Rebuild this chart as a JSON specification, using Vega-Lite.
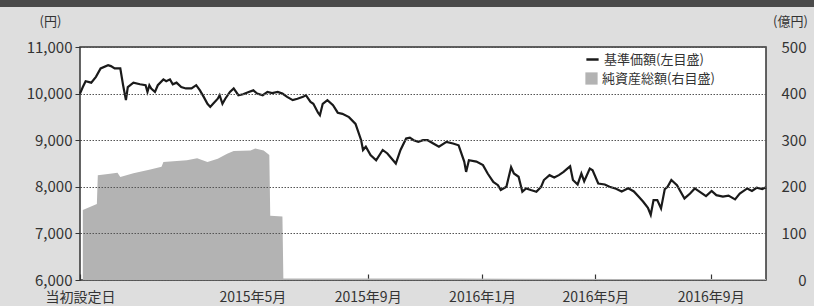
{
  "$schema": "https://vega.github.io/schema/vega-lite/v6.json",
  "width": 686,
  "height": 233,
  "autosize": {"type": "none"},
  "padding": {"left": 80, "top": 47, "right": 48, "bottom": 26},
  "background": "#dedede",
  "config": {
    "font": "Noto Sans CJK JP",
    "view": {"fill": "white", "stroke": "#333333", "strokeWidth": 1.5},
    "axis": {"labelColor": "#333333", "titleColor": "#333333", "labelFont": "Noto Sans CJK JP", "titleFont": "Noto Sans CJK JP"},
    "legend": {"labelFont": "Noto Sans CJK JP", "labelColor": "#333333"}
  },
  "datasets": {
    "assets": [
      {"date": "2014-11-01", "v": 150},
      {"date": "2014-11-16", "v": 163},
      {"date": "2014-11-17", "v": 225},
      {"date": "2014-11-30", "v": 228},
      {"date": "2014-12-08", "v": 230},
      {"date": "2014-12-11", "v": 221},
      {"date": "2014-12-25", "v": 229},
      {"date": "2015-01-12", "v": 237},
      {"date": "2015-01-24", "v": 243},
      {"date": "2015-01-26", "v": 253},
      {"date": "2015-02-20", "v": 257},
      {"date": "2015-03-03", "v": 261},
      {"date": "2015-03-14", "v": 253},
      {"date": "2015-03-25", "v": 260},
      {"date": "2015-04-04", "v": 271},
      {"date": "2015-04-11", "v": 277},
      {"date": "2015-04-29", "v": 278},
      {"date": "2015-05-04", "v": 282},
      {"date": "2015-05-13", "v": 278},
      {"date": "2015-05-19", "v": 268},
      {"date": "2015-05-20", "v": 138},
      {"date": "2015-06-02", "v": 136},
      {"date": "2015-06-03", "v": 3},
      {"date": "2015-12-01", "v": 3},
      {"date": "2016-06-01", "v": 2},
      {"date": "2016-10-30", "v": 2}
    ],
    "nav": [
      {"date": "2014-10-29", "v": 10000},
      {"date": "2014-11-01", "v": 10140},
      {"date": "2014-11-04", "v": 10265},
      {"date": "2014-11-10", "v": 10235},
      {"date": "2014-11-15", "v": 10360},
      {"date": "2014-11-20", "v": 10540},
      {"date": "2014-11-28", "v": 10610},
      {"date": "2014-12-01", "v": 10590},
      {"date": "2014-12-05", "v": 10540},
      {"date": "2014-12-11", "v": 10540},
      {"date": "2014-12-14", "v": 10180},
      {"date": "2014-12-17", "v": 9860},
      {"date": "2014-12-19", "v": 10140},
      {"date": "2014-12-25", "v": 10235},
      {"date": "2015-01-01", "v": 10200},
      {"date": "2015-01-07", "v": 10180},
      {"date": "2015-01-09", "v": 10035},
      {"date": "2015-01-11", "v": 10180},
      {"date": "2015-01-13", "v": 10110},
      {"date": "2015-01-17", "v": 10035},
      {"date": "2015-01-20", "v": 10180},
      {"date": "2015-01-26", "v": 10305},
      {"date": "2015-01-29", "v": 10265},
      {"date": "2015-02-02", "v": 10305},
      {"date": "2015-02-05", "v": 10200},
      {"date": "2015-02-09", "v": 10235},
      {"date": "2015-02-14", "v": 10140},
      {"date": "2015-02-19", "v": 10110},
      {"date": "2015-02-25", "v": 10110},
      {"date": "2015-03-02", "v": 10180},
      {"date": "2015-03-06", "v": 10070},
      {"date": "2015-03-10", "v": 9930},
      {"date": "2015-03-14", "v": 9780},
      {"date": "2015-03-17", "v": 9715},
      {"date": "2015-03-20", "v": 9780},
      {"date": "2015-03-25", "v": 9890},
      {"date": "2015-03-27", "v": 9965},
      {"date": "2015-03-30", "v": 9780},
      {"date": "2015-04-02", "v": 9890},
      {"date": "2015-04-07", "v": 10035},
      {"date": "2015-04-11", "v": 10110},
      {"date": "2015-04-16", "v": 9965},
      {"date": "2015-04-21", "v": 9985},
      {"date": "2015-04-27", "v": 10035},
      {"date": "2015-05-02", "v": 10070},
      {"date": "2015-05-06", "v": 10000},
      {"date": "2015-05-12", "v": 9965},
      {"date": "2015-05-17", "v": 10035},
      {"date": "2015-05-22", "v": 10010},
      {"date": "2015-05-28", "v": 10035},
      {"date": "2015-06-02", "v": 10000},
      {"date": "2015-06-07", "v": 9930},
      {"date": "2015-06-13", "v": 9860},
      {"date": "2015-06-18", "v": 9890},
      {"date": "2015-06-24", "v": 9930},
      {"date": "2015-06-27", "v": 9965},
      {"date": "2015-07-02", "v": 9820},
      {"date": "2015-07-05", "v": 9780},
      {"date": "2015-07-10", "v": 9590},
      {"date": "2015-07-12", "v": 9535},
      {"date": "2015-07-15", "v": 9780},
      {"date": "2015-07-20", "v": 9860},
      {"date": "2015-07-26", "v": 9750},
      {"date": "2015-07-31", "v": 9590},
      {"date": "2015-08-05", "v": 9565},
      {"date": "2015-08-12", "v": 9495},
      {"date": "2015-08-19", "v": 9350},
      {"date": "2015-08-25", "v": 9000},
      {"date": "2015-08-27", "v": 8790},
      {"date": "2015-08-30", "v": 8860},
      {"date": "2015-09-04", "v": 8680},
      {"date": "2015-09-10", "v": 8570},
      {"date": "2015-09-17", "v": 8790},
      {"date": "2015-09-22", "v": 8715},
      {"date": "2015-10-01", "v": 8500},
      {"date": "2015-10-06", "v": 8790},
      {"date": "2015-10-12", "v": 9035},
      {"date": "2015-10-16", "v": 9055},
      {"date": "2015-10-20", "v": 9000},
      {"date": "2015-10-25", "v": 8965},
      {"date": "2015-10-30", "v": 9000},
      {"date": "2015-11-04", "v": 9000},
      {"date": "2015-11-10", "v": 8930},
      {"date": "2015-11-16", "v": 8860},
      {"date": "2015-11-24", "v": 8965},
      {"date": "2015-12-01", "v": 8930},
      {"date": "2015-12-07", "v": 8890},
      {"date": "2015-12-13", "v": 8540},
      {"date": "2015-12-15", "v": 8320},
      {"date": "2015-12-18", "v": 8570},
      {"date": "2015-12-26", "v": 8540},
      {"date": "2016-01-02", "v": 8465},
      {"date": "2016-01-07", "v": 8285},
      {"date": "2016-01-13", "v": 8105},
      {"date": "2016-01-18", "v": 8035},
      {"date": "2016-01-21", "v": 7930},
      {"date": "2016-01-27", "v": 8000},
      {"date": "2016-02-01", "v": 8420},
      {"date": "2016-02-04", "v": 8285},
      {"date": "2016-02-09", "v": 8215},
      {"date": "2016-02-13", "v": 7895},
      {"date": "2016-02-17", "v": 7965},
      {"date": "2016-02-22", "v": 7930},
      {"date": "2016-02-28", "v": 7895},
      {"date": "2016-03-04", "v": 8000},
      {"date": "2016-03-07", "v": 8145},
      {"date": "2016-03-13", "v": 8250},
      {"date": "2016-03-18", "v": 8200},
      {"date": "2016-03-23", "v": 8250},
      {"date": "2016-03-28", "v": 8320},
      {"date": "2016-04-01", "v": 8390},
      {"date": "2016-04-04", "v": 8440},
      {"date": "2016-04-07", "v": 8145},
      {"date": "2016-04-12", "v": 8050},
      {"date": "2016-04-16", "v": 8285},
      {"date": "2016-04-19", "v": 8120},
      {"date": "2016-04-25", "v": 8390},
      {"date": "2016-04-28", "v": 8355},
      {"date": "2016-05-04", "v": 8070},
      {"date": "2016-05-11", "v": 8050},
      {"date": "2016-05-16", "v": 8000},
      {"date": "2016-05-23", "v": 7960},
      {"date": "2016-05-29", "v": 7900},
      {"date": "2016-06-05", "v": 7970},
      {"date": "2016-06-11", "v": 7900},
      {"date": "2016-06-16", "v": 7790},
      {"date": "2016-06-21", "v": 7680},
      {"date": "2016-06-26", "v": 7550},
      {"date": "2016-06-29", "v": 7400},
      {"date": "2016-07-02", "v": 7715},
      {"date": "2016-07-06", "v": 7715},
      {"date": "2016-07-10", "v": 7535},
      {"date": "2016-07-14", "v": 7950},
      {"date": "2016-07-17", "v": 8000},
      {"date": "2016-07-21", "v": 8145},
      {"date": "2016-07-27", "v": 8035},
      {"date": "2016-08-04", "v": 7750},
      {"date": "2016-08-10", "v": 7855},
      {"date": "2016-08-15", "v": 7965},
      {"date": "2016-08-20", "v": 7895},
      {"date": "2016-08-27", "v": 7800},
      {"date": "2016-09-02", "v": 7910},
      {"date": "2016-09-07", "v": 7820},
      {"date": "2016-09-14", "v": 7790},
      {"date": "2016-09-20", "v": 7810},
      {"date": "2016-09-27", "v": 7730},
      {"date": "2016-10-02", "v": 7855},
      {"date": "2016-10-10", "v": 7965},
      {"date": "2016-10-15", "v": 7910},
      {"date": "2016-10-20", "v": 7980},
      {"date": "2016-10-26", "v": 7950},
      {"date": "2016-10-30", "v": 7990}
    ]
  },
  "encoding": {
    "x": {
      "field": "date",
      "type": "temporal",
      "scale": {"domain": ["2014-10-29", "2016-10-30"]},
      "axis": {
        "title": null,
        "values": ["2014-10-29", "2015-05-01", "2015-09-01", "2016-01-01", "2016-05-01", "2016-09-01"],
        "labelExpr": "utcyear(datum.value) == 2014 ? '当初設定日' : utcyear(datum.value) + '年' + (utcmonth(datum.value) + 1) + '月'",
        "labelFlush": false,
        "grid": false,
        "domain": false,
        "tickSize": -6,
        "tickColor": "#333333",
        "tickWidth": 1.2,
        "labelFontSize": 14,
        "labelPadding": 16,
        "labelBaseline": "top"
      }
    }
  },
  "layer": [
    {
      "data": {"name": "assets"},
      "mark": {"type": "area", "interpolate": "linear"},
      "encoding": {
        "y": {
          "field": "v",
          "type": "quantitative",
          "scale": {"domain": [0, 500], "nice": false},
          "axis": {
            "orient": "right",
            "values": [0, 100, 200, 300, 400, 500],
            "grid": false,
            "ticks": false,
            "domain": false,
            "labelAlign": "right",
            "labelPadding": 40,
            "labelFontSize": 15,
            "title": "(億円)",
            "titleAngle": 0,
            "titleX": 24,
            "titleY": -26,
            "titleAlign": "center",
            "titleBaseline": "middle",
            "titleFontSize": 13,
            "titleFontWeight": "normal"
          }
        },
        "fill": {
          "datum": "純資産総額(右目盛)",
          "type": "nominal",
          "scale": {"range": ["#b3b3b3"]},
          "legend": {
            "title": null,
            "orient": "none",
            "legendX": 505,
            "legendY": 25,
            "symbolType": "square",
            "symbolSize": 150,
            "symbolStrokeWidth": 0,
            "labelFontSize": 13,
            "padding": 0
          }
        }
      }
    },
    {
      "data": {"name": "nav"},
      "mark": {"type": "line", "strokeWidth": 2.2, "interpolate": "linear"},
      "encoding": {
        "y": {
          "field": "v",
          "type": "quantitative",
          "scale": {"domain": [6000, 11000], "nice": false},
          "axis": {
            "orient": "left",
            "values": [6000, 7000, 8000, 9000, 10000, 11000],
            "format": ",d",
            "grid": true,
            "gridColor": "#555555",
            "gridDash": [1.5, 1.5],
            "gridWidth": 1,
            "zindex": 1,
            "domain": false,
            "tickSize": 5,
            "tickColor": "#333333",
            "labelPadding": 3,
            "labelFontSize": 15,
            "encode": {"labels": {"update": {"dy": {"signal": "datum.value == 6000 ? -5 : 0"}}}},
            "title": "(円)",
            "titleAngle": 0,
            "titleX": -30,
            "titleY": -26,
            "titleAlign": "center",
            "titleBaseline": "middle",
            "titleFontSize": 13,
            "titleFontWeight": "normal"
          }
        },
        "stroke": {
          "datum": "基準価額(左目盛)",
          "type": "nominal",
          "scale": {"range": ["#1a1a1a"]},
          "legend": {
            "title": null,
            "orient": "none",
            "legendX": 505,
            "legendY": 5,
            "symbolType": "stroke",
            "symbolSize": 150,
            "symbolStrokeWidth": 2.5,
            "labelFontSize": 13,
            "padding": 0
          }
        }
      }
    },
    {
      "data": {"name": "nav"},
      "mark": {"type": "point", "opacity": 0},
      "encoding": {
        "y": {"field": "v", "type": "quantitative", "axis": null},
        "color": {
          "field": "v",
          "type": "quantitative",
          "scale": {"range": ["#4a4a4a", "#4a4a4a"]},
          "legend": {
            "title": null,
            "orient": "none",
            "direction": "horizontal",
            "legendX": -80,
            "legendY": -47,
            "gradientLength": 814,
            "gradientThickness": 7,
            "gradientStrokeWidth": 0,
            "labelOpacity": 0,
            "labelFontSize": 1,
            "padding": 0
          }
        }
      }
    }
  ],
  "resolve": {"scale": {"y": "independent"}}
}
